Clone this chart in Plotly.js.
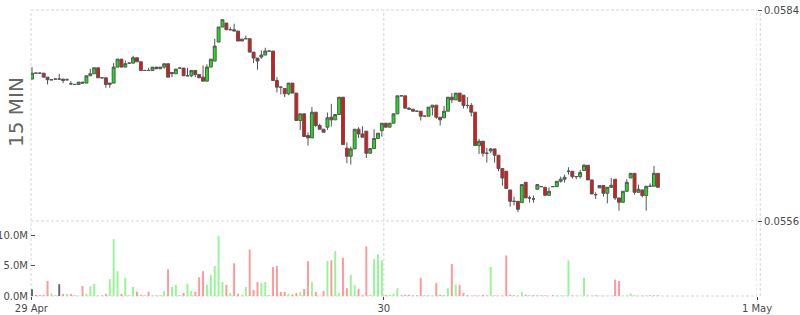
<!DOCTYPE html>
<html>
<head>
<meta charset="utf-8">
<script src="https://cdn.plot.ly/plotly-3.0.1.min.js"></script>
<style>html,body{margin:0;padding:0;background:#fff;}#chart{width:800px;height:315px;}</style>
</head>
<body>
<div id="chart"></div>
<script>
// 15-minute candles, first period starts 29 Apr 01:15
const periodStart = '2019-04-29T01:15:00Z';
const periodMinutes = 15;

const open = [
.057483,.057562,.057562,.057562,.057509,.057474,.057483,.057483,.057483,.057474,
.057421,.057412,.057412,.057443,.057430,.057527,.057554,.057633,.057500,.057500,
.057412,.057430,.057642,.057748,.057642,.057695,.057695,.057766,.057713,.057598,
.057598,.057598,.057642,.057620,.057642,.057687,.057554,.057554,.057629,.057629,
.057527,.057527,.057598,.057545,.057509,.057456,.057642,.057722,.057974,.058174,
.058227,.058138,.058138,.058121,.057988,.058019,.058019,.057841,.057762,.057775,
.057802,.057855,.057855,.057465,.057376,.057359,.057288,.057430,.057297,.056933,
.057022,.056734,.056703,.057044,.056867,.056818,.056845,.056978,.056942,.057013,
.057243,.056566,.056459,.056557,.056818,.056756,.056792,.056499,.056561,.056694,
.056800,.056898,.056845,.056898,.057022,.057261,.057261,.057097,.057084,.057057,
.057057,.056991,.056991,.057111,.057137,.056978,.056969,.057057,.057243,.057208,
.057297,.057270,.057133,.057133,.057044,.056601,.056659,.056499,.056530,.056557,
.056473,.056296,.056260,.056012,.055861,.055861,.055844,.056114,.055906,.055892,
.056021,.056056,.056047,.055941,.056056,.056056,.056127,.056154,.056260,.056260,
.056189,.056189,.056269,.056340,.056145,.055950,.056039,.056070,.055968,.056047,
.056154,.055906,.055848,.055994,.056171,.056233,.055981,.056012,.055937,.056061,
.056061,.056233];

const high = [
.057642,.057562,.057562,.057562,.057509,.057474,.057483,.057554,.057483,.057492,
.057456,.057412,.057443,.057443,.057527,.057620,.057633,.057633,.057500,.057500,
.057430,.057695,.057748,.057748,.057731,.057695,.057793,.057766,.057713,.057598,
.057633,.057642,.057642,.057642,.057687,.057687,.057571,.057616,.057629,.057629,
.057633,.057598,.057598,.057545,.057664,.057678,.057748,.058019,.058174,.058271,
.058227,.058174,.058218,.058121,.058014,.058059,.058019,.057841,.057762,.057864,
.057899,.057855,.057855,.057509,.057376,.057359,.057430,.057430,.057297,.057022,
.057022,.056774,.057111,.057044,.056889,.056818,.057040,.057155,.057013,.057243,
.057243,.056645,.056588,.056818,.056845,.056858,.056792,.056561,.056818,.056765,
.056898,.056898,.056898,.057022,.057261,.057261,.057261,.057111,.057084,.057057,
.057057,.056991,.057111,.057137,.057137,.056978,.057128,.057243,.057297,.057297,
.057297,.057270,.057243,.057164,.057044,.056690,.056659,.056570,.056570,.056557,
.056473,.056296,.056260,.056012,.055923,.055861,.056083,.056114,.055937,.055937,
.056083,.056056,.056047,.056047,.056056,.056127,.056189,.056216,.056313,.056260,
.056189,.056278,.056358,.056340,.056145,.055981,.056070,.056070,.056047,.056171,
.056154,.055906,.055994,.056154,.056233,.056233,.056083,.056012,.056061,.056101,
.056331,.056233];

const low = [
.057483,.057562,.057562,.057509,.057412,.057474,.057483,.057483,.057430,.057474,
.057403,.057412,.057412,.057430,.057430,.057527,.057554,.057500,.057500,.057368,
.057368,.057430,.057642,.057642,.057642,.057695,.057695,.057713,.057598,.057598,
.057598,.057598,.057620,.057620,.057620,.057509,.057509,.057554,.057629,.057527,
.057527,.057509,.057509,.057500,.057456,.057456,.057642,.057722,.057974,.058174,
.058138,.058138,.058121,.057988,.057988,.058019,.057841,.057695,.057607,.057753,
.057802,.057855,.057465,.057306,.057279,.057243,.057270,.057297,.056933,.056809,
.056721,.056601,.056703,.056845,.056818,.056778,.056809,.056854,.056942,.057013,
.056614,.056366,.056349,.056557,.056703,.056712,.056437,.056499,.056561,.056694,
.056721,.056845,.056845,.056898,.057022,.057261,.057097,.057084,.057057,.057057,
.056933,.056991,.056991,.057000,.056956,.056867,.056969,.057057,.057164,.057208,
.057177,.057093,.057093,.056987,.056601,.056490,.056455,.056375,.056499,.056375,
.056260,.056070,.056030,.055791,.055808,.055720,.055844,.055906,.055844,.055844,
.056021,.056056,.055941,.055941,.056056,.056056,.056109,.056109,.056216,.056163,
.056154,.056163,.056269,.056145,.055959,.055892,.056039,.055923,.055835,.056047,
.055879,.055737,.055848,.055994,.056171,.055950,.055981,.055915,.055737,.056061,
.056061,.056047];

const close = [
.057562,.057562,.057562,.057509,.057474,.057474,.057483,.057483,.057465,.057474,
.057421,.057412,.057443,.057430,.057527,.057554,.057633,.057500,.057500,.057412,
.057430,.057642,.057748,.057642,.057687,.057695,.057766,.057713,.057598,.057598,
.057598,.057642,.057620,.057642,.057687,.057509,.057571,.057616,.057629,.057527,
.057527,.057598,.057545,.057500,.057456,.057642,.057748,.057921,.058174,.058271,
.058138,.058138,.058121,.057988,.058014,.058019,.057841,.057762,.057722,.057802,
.057855,.057855,.057465,.057376,.057376,.057288,.057430,.057297,.056933,.057022,
.056721,.056703,.057044,.056867,.056818,.056778,.056969,.056942,.057013,.057243,
.056614,.056459,.056557,.056818,.056756,.056712,.056499,.056561,.056694,.056765,
.056898,.056845,.056898,.057022,.057261,.057261,.057097,.057084,.057057,.057057,
.056991,.056991,.057111,.057137,.056978,.056942,.057057,.057243,.057208,.057297,
.057190,.057133,.057133,.057044,.056601,.056659,.056499,.056499,.056557,.056473,
.056296,.056171,.056030,.055861,.055861,.055755,.056083,.055906,.055906,.055892,
.056083,.056056,.055941,.055994,.056056,.056127,.056154,.056180,.056260,.056189,
.056189,.056242,.056340,.056145,.055959,.055950,.056070,.055968,.056047,.056074,
.055906,.055848,.055994,.056114,.056233,.055981,.056021,.055937,.056061,.056061,
.056233,.056047];

// volume in millions
const volume = [
1.1,0.1,0.15,0.2,2.5,0.45,0.05,1.95,0.35,0.35,
0.35,0.05,0.05,1.65,0.35,1.6,2.0,0.05,0.05,0.35,
2.8,9.4,4.1,0.35,3.0,0.1,1.5,0.7,0.2,0.05,
0.7,0.1,0.1,0.15,0.85,4.4,1.5,1.85,0.05,0.5,
2.0,0.85,0.7,3.1,4.1,1.85,3.5,4.95,9.9,2.3,
1.85,0.5,5.4,0.35,0.2,1.5,7.7,1.0,2.3,2.15,
2.3,0.05,4.8,4.95,0.68,0.68,0.35,0.25,0.5,0.68,
1.15,5.8,2.3,0.68,0.05,0.85,5.8,5.9,7.4,0.45,
6.3,1.3,3.5,1.8,1.15,0.1,8.2,0.2,6.1,6.9,
5.9,0.15,0.2,0.35,1.3,0.05,0.2,0.2,0.1,0.05,
3.0,0.05,0.2,0.1,2.15,0.2,0.2,1.3,5.3,1.85,
1.85,0.5,0.05,0.05,0.1,0.1,0.2,0.1,4.8,0.1,
0.05,0.05,6.7,0.2,0.05,0.05,0.7,0.2,0.05,0.05,
0.2,0.1,0.1,0.05,0.05,0.1,0.1,0.1,5.9,0.1,
0.1,0.05,3.0,0.05,0.05,0.05,0.05,0.05,0.05,0.05,
2.7,2.5,0.05,0.1,0.4,0.1,0.05,0.05,0.1,0.05,
0.15,0.1];

// volume direction: 1 up, -1 down, 0 unchanged
const volumeDir = [
0,0,-1,-1,-1,1,0,0,-1,1,
-1,0,1,-1,1,1,1,-1,0,-1,
1,1,1,-1,1,-1,1,-1,-1,0,
-1,1,-1,1,1,-1,1,1,0,-1,
1,1,-1,-1,-1,1,1,1,1,1,
-1,1,-1,-1,1,1,-1,-1,-1,1,
1,0,-1,-1,-1,-1,1,-1,-1,1,
-1,-1,1,-1,-1,-1,1,-1,1,1,
-1,-1,1,1,-1,-1,-1,1,1,1,
1,-1,1,1,1,0,-1,-1,-1,0,
-1,0,1,1,-1,-1,1,1,-1,1,
-1,-1,0,-1,-1,1,-1,-1,1,-1,
-1,-1,-1,-1,0,-1,1,-1,0,0,
1,-1,-1,1,0,1,1,1,1,-1,
1,1,1,-1,-1,0,1,-1,1,1,
-1,-1,1,1,1,-1,1,-1,1,0,
1,-1];

const xTickVals = ['2019-04-29 01:20:00', '2019-04-30 00:00:00', '2019-05-01 00:00:00'];
const xTickText = ['29 Apr', '30', '1 May'];
const xRange = ['2019-04-29 01:18:36', '2019-05-01 00:00:00'];
const priceTicks = [0.0556, 0.0584];
const volTickVals = [0, 5, 10];
const volTickText = ['0.0M', '5.0M', '10.0M'];

const t0 = Date.parse(periodStart);
const times = open.map((_, i) =>
  new Date(t0 + i * periodMinutes * 60000).toISOString().slice(0, 19).replace('T', ' '));

const volColors = volumeDir.map(d => d > 0 ? '#96f596' : (d < 0 ? '#ff9898' : '#666666'));

const PERIOD = periodMinutes * 60000;
const candles = {
  type: 'candlestick', x: times, open: open, high: high, low: low, close: close,
  xperiod: PERIOD, xperiodalignment: 'middle',
  xaxis: 'x', yaxis: 'y',
  increasing: {line: {color: '#555555', width: 1}, fillcolor: '#14e614'},
  decreasing: {line: {color: '#555555', width: 1}, fillcolor: '#f01010'},
  whiskerwidth: 0, hoverinfo: 'skip', showlegend: false
};
const vols = {
  type: 'bar', x: times, y: volume,
  xperiod: PERIOD, xperiodalignment: 'middle',
  width: PERIOD * 0.5,
  marker: {color: volColors, line: {width: 0}},
  xaxis: 'x', yaxis: 'y2', hoverinfo: 'skip', showlegend: false
};

const split = 75 / 286;
const gridC = '#d6d6d6';
const dashP = '3px,2px';
function vline(x, xref) {
  return {type: 'line', xref: xref, yref: 'paper', x0: x, x1: x, y0: 0, y1: 1,
          line: {color: gridC, width: 1, dash: dashP}, layer: 'below'};
}
function hline(y) {
  return {type: 'line', xref: 'paper', yref: 'paper', x0: 0, x1: 1, y0: y, y1: y,
          line: {color: gridC, width: 1, dash: dashP}, layer: 'below'};
}

const layout = {
  width: 800, height: 315,
  margin: {l: 31, r: 43, t: 10, b: 19, pad: 0},
  paper_bgcolor: '#ffffff', plot_bgcolor: '#ffffff',
  font: {family: 'DejaVu Sans', size: 10, color: '#4a4a4a'},
  showlegend: false,
  boxgap: 0.25, boxgroupgap: 0,
  xaxis: {
    type: 'date', range: xRange, anchor: 'y2',
    tickvals: xTickVals, ticktext: xTickText,
    ticks: 'outside', ticklen: 3, tickcolor: '#444444',
    showgrid: false, zeroline: false, showline: false,
    rangeslider: {visible: false}, fixedrange: true
  },
  yaxis: {
    domain: [split, 1], side: 'right', anchor: 'x',
    range: [priceTicks[0], priceTicks[1]],
    tickvals: priceTicks, tickformat: '.4f',
    ticks: 'outside', ticklen: 4, tickcolor: '#555555',
    showgrid: false, zeroline: false, showline: false, fixedrange: true
  },
  yaxis2: {
    domain: [0, split], side: 'left', anchor: 'x',
    range: [0, 12.4],
    tickvals: volTickVals, ticktext: volTickText,
    ticks: 'inside', ticklen: 4, tickcolor: '#555555', ticklabelstandoff: 2,
    showgrid: false, zeroline: false, showline: false, fixedrange: true
  },
  bargap: 0.5,
  shapes: [
    vline(0, 'paper'), vline(xTickVals[1], 'x'), vline(xTickVals[2], 'x'), vline(1.0045, 'paper'),
    hline(1), hline(split), hline(0)
  ],
  annotations: [{
    text: '15 MIN', xref: 'paper', yref: 'paper',
    x: -0.0213, y: 0.6416, xanchor: 'center', yanchor: 'middle',
    textangle: -90, showarrow: false,
    font: {family: 'DejaVu Sans', size: 20, color: '#666666'}
  }]
};

Plotly.newPlot('chart', [vols, candles], layout, {staticPlot: true, displayModeBar: false});
</script>
</body>
</html>
